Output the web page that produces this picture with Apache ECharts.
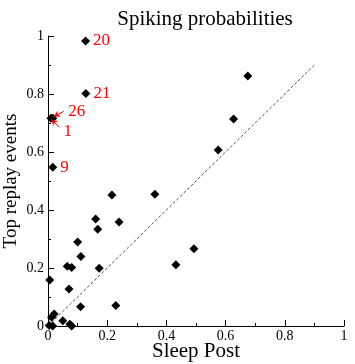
<!DOCTYPE html>
<html><head><meta charset="utf-8">
<script src="https://cdn.jsdelivr.net/npm/echarts@6/dist/echarts.min.js"></script>
<style>html,body{margin:0;padding:0;background:#fff}#c{width:355px;height:364px}</style>
</head><body><div id="c"></div>
<script>
const sleepPost = [0.216,0.361,0.161,0.240,0.168,0.100,0.111,0.065,0.080,0.173,0.432,0.006,0.071,0.110,0.229,0.021,0.012,0.050,0.004,0.016,0.074,0.080,0.493,0.575,0.627,0.675];
const topReplay = [0.452,0.454,0.369,0.359,0.334,0.290,0.240,0.206,0.202,0.199,0.211,0.159,0.128,0.066,0.071,0.041,0.030,0.018,0.002,0.000,0.006,0.000,0.266,0.607,0.714,0.862];
const labelIds = ['20','21','26','1','9'];
const labelX = [0.127,0.128,0.016,0.010,0.016];
const labelY = [0.983,0.802,0.716,0.716,0.547];
const diagX = [0,0.9];
const diagY = [0,0.9];
const ticks = ['0','0.2','0.4','0.6','0.8','1'];
// annotation arrows: [fromX, fromY, toX, toY]
const arrows = [[0.053,0.740,0.019,0.722],[0.038,0.686,0.011,0.712]];

const serif = 'Liberation Serif, DejaVu Serif, serif';
const chart = echarts.init(document.getElementById('c'));
const labelOffsets = {'20':[0,0],'21':[0,0],'26':[8,-7],'1':[5,13],'9':[0,0]};
const fmt = v => { const s = ticks.find(t => Math.abs(parseFloat(t)-v)<1e-6); return s!==undefined? s : ''; };
const axisCommon = {
  min:0, max:1, interval:0.2,
  axisLine:{show:true, lineStyle:{color:'#000', width:1}},
  axisTick:{show:true, inside:true, length:6, lineStyle:{color:'#000'}},
  minorTick:{show:true, splitNumber:2, length:3, lineStyle:{color:'#000'}},
  splitLine:{show:false},
  axisLabel:{color:'#000', fontFamily:serif, fontSize:14, formatter:fmt},
  nameLocation:'middle',
  nameMoveOverlap:false
};
chart.setOption({
  animation:false,
  title:{text:'Spiking probabilities', left:200, top:4, textAlign:'center',
    textStyle:{fontFamily:serif, fontSize:21, fontWeight:'normal', color:'#000'}},
  grid:{left:48, right:11, top:36, bottom:38, containLabel:false, outerBoundsMode:'none'},
  xAxis:Object.assign({}, axisCommon, {type:'value', name:'Sleep Post', nameGap:15,
    nameTextStyle:{color:'#000', fontFamily:serif, fontSize:21},
    axisLabel:Object.assign({}, axisCommon.axisLabel, {margin:3})}),
  yAxis:Object.assign({}, axisCommon, {type:'value', name:'Top replay events', nameGap:27,
    nameTextStyle:{color:'#000', fontFamily:serif, fontSize:19},
    axisLabel:Object.assign({}, axisCommon.axisLabel, {margin:4})}),
  series:[
    {type:'line', data:diagX.map((x,i)=>[x,diagY[i]]), symbol:'none',
     lineStyle:{color:'#555', width:1, type:[3,2]}, z:1},
    {type:'scatter', data:sleepPost.map((x,i)=>[x,topReplay[i]]), symbol:'diamond', symbolSize:9,
     itemStyle:{color:'#000', opacity:1}, z:3},
    {type:'scatter', symbol:'diamond', symbolSize:9, itemStyle:{color:'#000', opacity:1}, z:3,
     data:labelIds.map((id,i)=>({value:[labelX[i],labelY[i]],
       label:{show:true, position:'right', formatter:id, color:'#ff0000', fontFamily:serif, fontSize:17,
         distance:3, offset:labelOffsets[id]}})),
     markLine:{silent:true, animation:false, symbol:['none','arrow'], symbolSize:[5,6],
       label:{show:false}, lineStyle:{color:'#ff0000', width:1, type:'solid'},
       data:arrows.map(a=>[{coord:[a[0],a[1]]},{coord:[a[2],a[3]]}])}}
  ]
});
</script></body></html>
